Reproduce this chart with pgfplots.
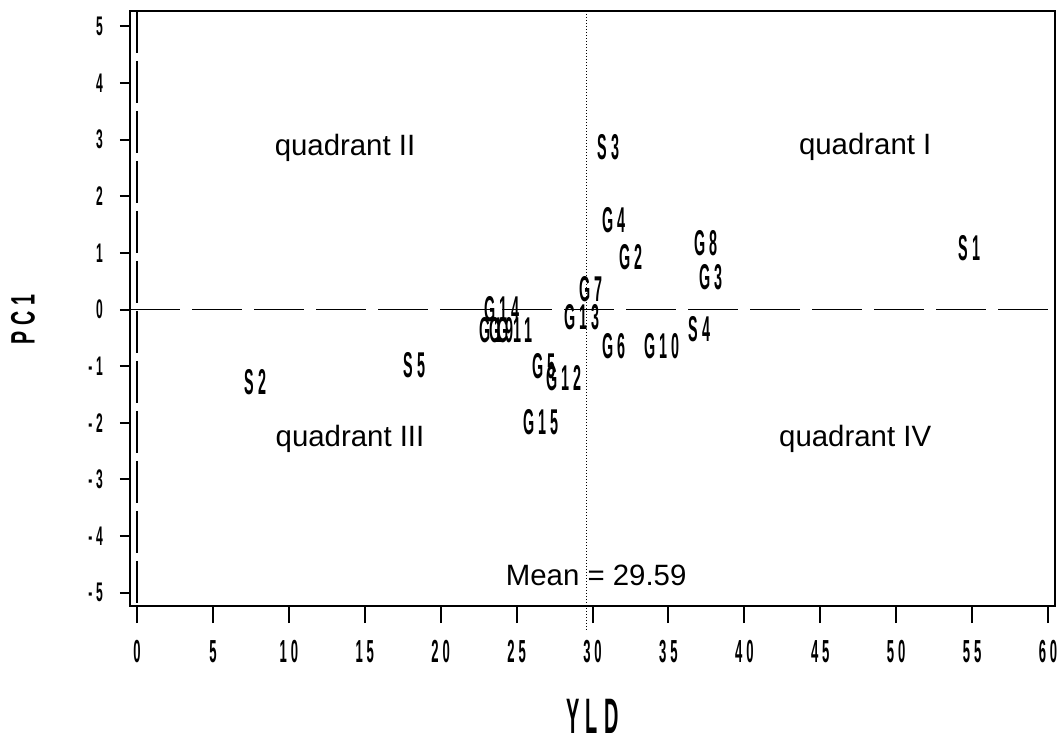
\documentclass[border=0pt]{standalone}
\usepackage{pgfplots}
\pgfplotsset{compat=1.18}
\usepackage{pgfplotstable}
\usepackage{graphicx}
\usepackage{fontspec}
\setmainfont{Liberation Sans}
\newfontfamily\sas[LetterSpace=30]{Liberation Sans Bold}
\newfontfamily\arial{Liberation Sans}
\newcommand\stick[3][0.5]{\scalebox{#1}[1]{\fontsize{#2}{#2}\selectfont\sas #3}}

\pgfplotstableread{
x y label
54.80 1.09 S1
7.81 -1.28 S2
31.06 2.87 S3
37.02 -0.34 S4
18.28 -0.98 S5
23.30 -0.36 G1
32.54 0.93 G2
37.81 0.57 G3
31.42 1.58 G4
26.81 -1.00 G5
31.42 -0.64 G6
29.91 0.36 G7
37.48 1.17 G8
24.00 -0.36 G9
34.58 -0.64 G10
24.90 -0.36 G11
28.13 -1.21 G12
29.31 -0.13 G13
24.04 0.00 G14
26.61 -1.99 G15
}\pointdata

\begin{document}
\begin{tikzpicture}
\path[use as bounding box] (0,0) rectangle (1064bp,738bp);
\begin{axis}[
  at={(130bp,132bp)}, anchor=south west,
  scale only axis, width=925bp, height=595bp,
  xmin=-0.461, xmax=60.461, ymin=-5.238, ymax=5.274,
  xtick={0,5,...,60}, ytick={-5,-4,...,5},
  xtick pos=bottom, ytick pos=left,
  tick align=outside,
  major tick length=10bp,
  xtick style={/pgfplots/major tick length=17bp, line width=2bp, black},
  ytick style={line width=2bp, black},
  axis line style={line width=2bp},
  xticklabel={\stick[0.41]{32}{\pgfmathprintnumber[assume math mode=true]{\tick}}},
  yticklabel={\stick[0.45]{27}{\pgfmathprintnumber[assume math mode=true]{\tick}}},
  xticklabel style={anchor=north, inner sep=0pt, yshift=-24bp},
  yticklabel style={anchor=east, inner sep=0pt, xshift=-17bp},
  xlabel={\stick[0.4]{50}{YLD}},
  ylabel={\stick[0.58]{34}{PC1}},
  xlabel style={at={(axis description cs:0.5,-0.2151)}, anchor=base, inner sep=0pt, text depth=0pt},
  ylabel style={at={(axis description cs:-0.1157,0.4807)}, anchor=center},
  clip=false,
]
\addplot[black, line width=1.5bp, dash pattern=on 50bp off 12bp] coordinates {(-0.461,0) (60.461,0)};
\addplot[black, line width=1.5bp, dash pattern=on 42bp off 8bp] coordinates {(0,5.274) (0,-5.238)};
\addplot[black, line width=0.9bp, dash pattern=on 1.5bp off 1.5bp] coordinates {(29.59,5.274) (29.59,-5.66)};
\addplot[only marks, mark=*, mark size=0pt,
  point meta=explicit symbolic,
  nodes near coords={\stick[0.4]{36}{\pgfplotspointmeta}},
  nodes near coords align={center},
  every node near coord/.append style={inner sep=0pt}]
  table[x=x, y=y, meta=label] {\pointdata};
\node[font=\arial\fontsize{29.5}{30}\selectfont] at (axis cs:13.7,2.86) {quadrant II};
\node[font=\arial\fontsize{29.5}{30}\selectfont] at (axis cs:47.96,2.87) {quadrant I};
\node[font=\arial\fontsize{29.5}{30}\selectfont] at (axis cs:14.03,-2.29) {quadrant III};
\node[font=\arial\fontsize{29.5}{30}\selectfont] at (axis cs:47.3,-2.29) {quadrant IV};
\node[font=\arial\fontsize{29.5}{30}\selectfont] at (axis cs:30.24,-4.69) {Mean = 29.59};
\end{axis}
\end{tikzpicture}
\end{document}
